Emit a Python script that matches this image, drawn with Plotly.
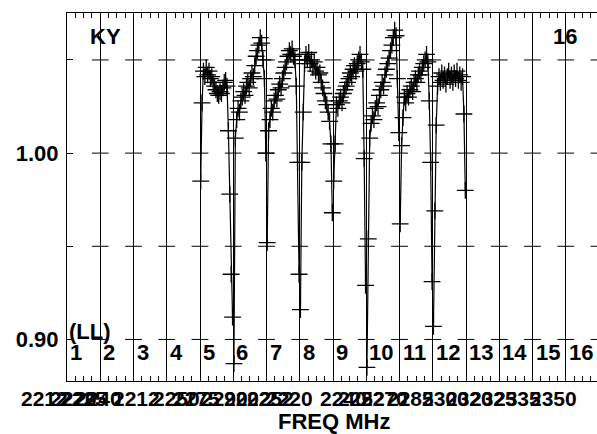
import numpy as np
import plotly.graph_objects as go

# ---------------- data ----------------
IF_LABELS = [str(i) for i in range(1, 17)]
Y_TICKS = [0.90, 0.95, 1.00, 1.05]
Y_TICK_TEXT = ["0.90", "", "1.00", ""]

# bandpass amplitudes per IF (24 channels each); IFs 1-4 and 13-16 have no data
IF5 = [0.985, 1.027, 1.044, 1.041, 1.046, 1.042, 1.044, 1.040, 1.041, 1.038, 1.036, 1.034,
       1.032, 1.031, 1.033, 1.032, 1.035, 1.038, 1.039, 1.036, 1.012, 0.978, 0.935, 0.912]
IF6 = [0.887, 1.008, 1.018, 1.024, 1.022, 1.028, 1.030, 1.033, 1.031, 1.036, 1.038, 1.035,
       1.040, 1.043, 1.041, 1.047, 1.052, 1.055, 1.058, 1.062, 1.059, 1.050, 1.040, 1.000]
IF7 = [0.952, 1.012, 1.018, 1.024, 1.022, 1.028, 1.031, 1.029, 1.034, 1.037, 1.035, 1.040,
       1.043, 1.046, 1.049, 1.052, 1.055, 1.053, 1.056, 1.052, 1.050, 1.036, 0.995, 0.935]
IF8 = [0.916, 0.995, 1.022, 1.048, 1.053, 1.050, 1.054, 1.048, 1.050, 1.046, 1.049, 1.044,
       1.046, 1.042, 1.043, 1.038, 1.035, 1.032, 1.028, 1.026, 1.022, 1.017, 1.005, 0.968]
IF9 = [0.985, 1.005, 1.026, 1.024, 1.028, 1.030, 1.027, 1.032, 1.034, 1.036, 1.038, 1.040,
       1.043, 1.041, 1.045, 1.047, 1.044, 1.048, 1.050, 1.053, 1.049, 1.045, 0.997, 0.929]
IF10 = [0.885, 0.954, 1.008, 1.016, 1.020, 1.018, 1.024, 1.027, 1.025, 1.031, 1.034, 1.038,
        1.036, 1.042, 1.045, 1.048, 1.051, 1.055, 1.058, 1.062, 1.066, 1.063, 1.040, 1.011]
IF11 = [0.962, 1.004, 1.019, 1.030, 1.027, 1.032, 1.030, 1.034, 1.036, 1.033, 1.038, 1.040,
        1.038, 1.042, 1.044, 1.042, 1.046, 1.048, 1.050, 1.053, 1.049, 1.028, 0.995, 0.931]
IF12 = [0.907, 0.969, 1.015, 1.036, 1.041, 1.038, 1.043, 1.039, 1.042, 1.037, 1.041, 1.044,
        1.039, 1.042, 1.038, 1.043, 1.040, 1.044, 1.039, 1.042, 1.038, 1.041, 1.021, 0.980]
DATA_IFS = [5, 6, 7, 8, 9, 10, 11, 12]

# overlapping frequency tick labels (AIPS multi-IF axis) and their positions in IF units
FREQ_LABELS = ["2212", "2220", "2225", "2240", "2212", "2250", "2275", "2290", "2202", "2252",
               "2220", "2240", "2252", "2270", "2285", "2300", "2320", "2325", "2335", "2350"]
FREQ_POS = [-0.69, 0.21, 0.51, 0.96, 2.08, 3.28, 3.88, 4.75, 5.44, 6.11,
            6.68, 8.33, 8.87, 9.56, 10.32, 11.37, 12.12, 12.84, 13.56, 14.62]

# ---------------- figure ----------------
FONT = "Liberation Sans, Arial, sans-serif"
W, H = 597, 434
L, T, B = 67, 13, 53
SEG_PX = 33.25
XMAX = (W - L) / SEG_PX

fig = go.Figure()

# short horizontal grid dashes on each IF boundary
dash_x, dash_y = [], []
for k in range(1, 17):
    for yv in Y_TICKS:
        dash_x.append(k)
        dash_y.append(yv)
fig.add_trace(go.Scatter(x=dash_x, y=dash_y, mode="markers",
                         marker=dict(symbol="line-ew", size=12, line=dict(width=1, color="black")),
                         hoverinfo="skip", showlegend=False))

series = [IF5, IF6, IF7, IF8, IF9, IF10, IF11, IF12]
for ifn, vals in zip(DATA_IFS, series):
    n = len(vals)
    xs = (ifn - 1) + (np.arange(n) + 0.5) / n
    fig.add_trace(go.Scatter(
        x=xs, y=vals, mode="lines+markers",
        line=dict(color="black", width=1.2),
        marker=dict(symbol="cross-thin", size=12, color="black",
                    line=dict(width=1.3, color="black")),
        showlegend=False))

annots = []
for i, lab in enumerate(IF_LABELS):
    annots.append(dict(x=i + 0.03, y=0.0788, xref="x", yref="paper", text=lab,
                       showarrow=False, xanchor="left", yanchor="middle",
                       font=dict(family=FONT, size=22, color="black", weight="bold")))
for lab, pos in zip(FREQ_LABELS, FREQ_POS):
    annots.append(dict(x=pos / XMAX, y=-0.0489, xref="paper", yref="paper", text=lab,
                       showarrow=False, xanchor="center", yanchor="middle",
                       font=dict(family=FONT, size=21, color="black", weight="bold")))
annots += [
    dict(x=0.0717, y=0.935, xref="paper", yref="paper", text="KY", showarrow=False,
         xanchor="center", yanchor="middle",
         font=dict(family=FONT, size=22, color="black", weight="bold")),
    dict(x=0.9396, y=0.935, xref="paper", yref="paper", text="16", showarrow=False,
         xanchor="center", yanchor="middle",
         font=dict(family=FONT, size=22, color="black", weight="bold")),
    dict(x=0.0, y=0.134, xref="paper", yref="paper", text="(LL)", showarrow=False,
         xanchor="left", yanchor="middle",
         font=dict(family=FONT, size=22, color="black", weight="bold")),
    dict(x=0.5047, y=-0.1106, xref="paper", yref="paper", text="FREQ MHz", showarrow=False,
         xanchor="center", yanchor="middle",
         font=dict(family=FONT, size=22, color="black", weight="bold")),
]

fig.update_layout(
    width=W, height=H,
    margin=dict(l=L, r=0, t=T, b=B, pad=0),
    paper_bgcolor="white", plot_bgcolor="white",
    showlegend=False,
    annotations=annots,
    xaxis=dict(range=[0, XMAX], tickmode="linear", tick0=0, dtick=1,
               showgrid=True, gridcolor="black", gridwidth=1, zeroline=False,
               showline=True, linecolor="black", linewidth=1, mirror="ticks",
               ticks="inside", ticklen=7, tickcolor="black", showticklabels=False,
               minor=dict(dtick=0.25, tick0=0, ticks="inside", ticklen=5,
                          tickcolor="black", showgrid=False)),
    yaxis=dict(range=[0.8777, 1.0752], tickmode="array", tickvals=Y_TICKS,
               ticktext=Y_TICK_TEXT, showgrid=False, zeroline=False,
               showline=True, linecolor="black", linewidth=1, mirror=False,
               ticks="inside", ticklen=6, tickcolor="black", ticklabelstandoff=3,
               tickfont=dict(family=FONT, size=22, color="black", weight="bold")),
)

fig.write_html(
    "out.html",
    config={"displayModeBar": False},
    post_script="document.body.style.margin='0';document.body.style.overflow='hidden';",
)
